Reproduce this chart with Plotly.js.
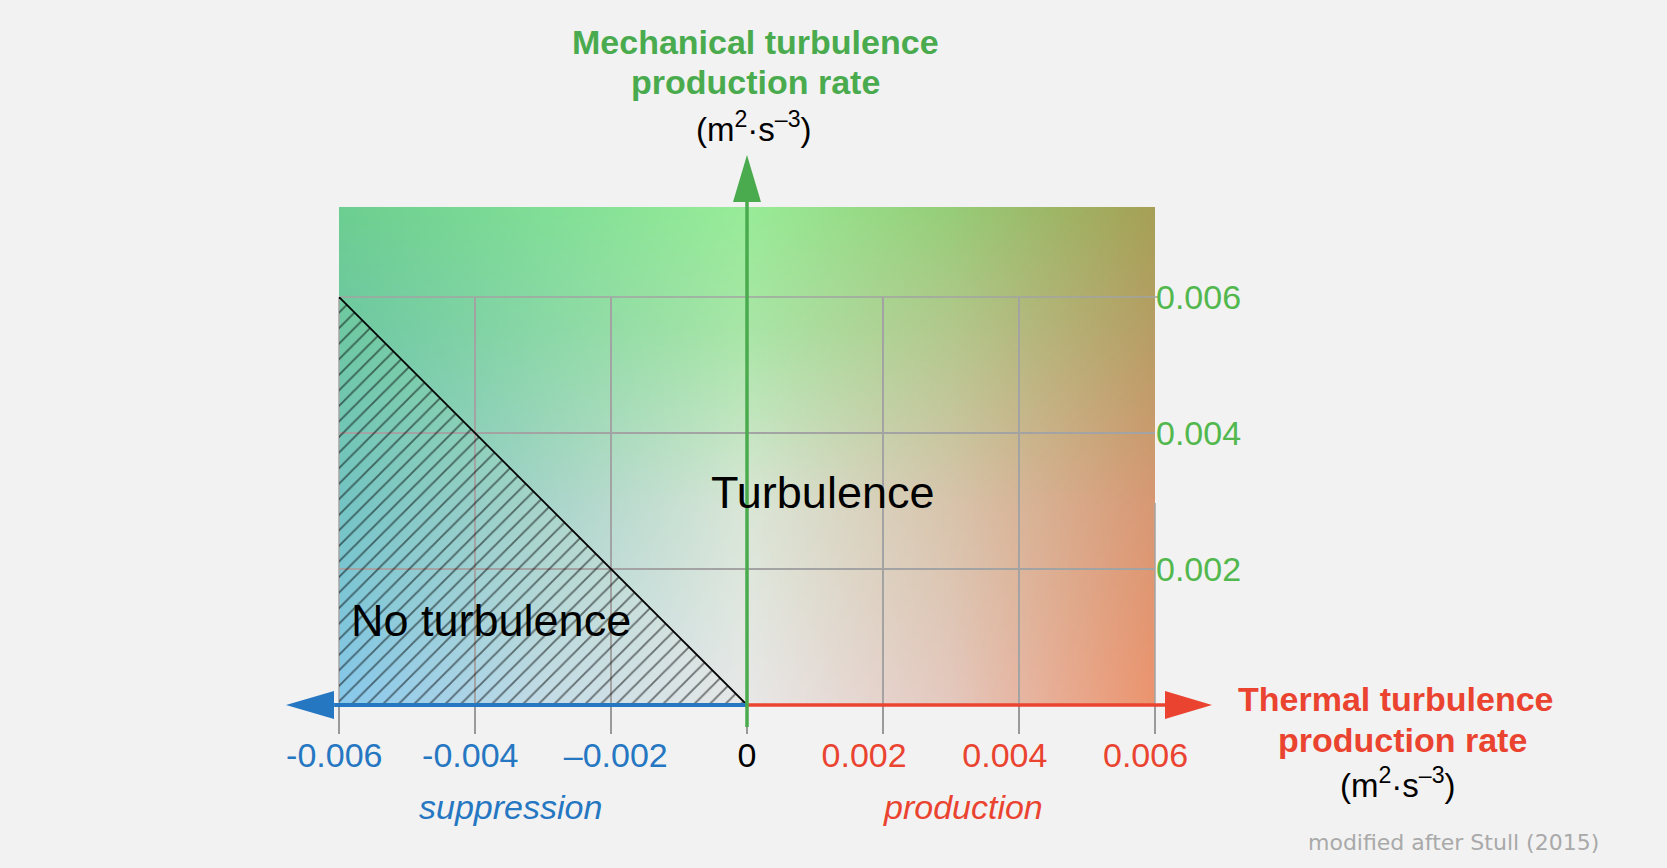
<!DOCTYPE html>
<html>
<head>
<meta charset="utf-8">
<script src="https://cdn.plot.ly/plotly-3.0.1.min.js"></script>
<style>
  html, body { margin: 0; padding: 0; background: #f2f2f2; }
  #chart { width: 1667px; height: 868px; }
</style>
</head>
<body>
<div id="chart"></div>
<script>
// ---------- data ----------
const xTickVals = [-0.006, -0.004, -0.002, 0, 0.002, 0.004, 0.006];
const xTickText = ['-0.006', '-0.004', '\u20130.002', '0', '0.002', '0.004', '0.006'];
const yTickVals = [0.002, 0.004, 0.006];
const yTickText = ['0.002', '0.004', '0.006'];
const xRange = [-0.006, 0.006];
const yRange = [0, 0.006];
// no-turbulence region (triangle) and its boundary
const noTurbX = [-0.006, -0.006, 0];
const noTurbY = [0.006, 0, 0];
const boundaryX = [-0.006, 0];
const boundaryY = [0.006, 0];

// ---------- style ----------
const BLUE = '#2677c2', RED = '#ea4430', GREEN = '#4aab4e', GREEN_T = '#52b84e';
const GRID = '#a3a3a3';
const FONT = 'Liberation Sans, Arial, Helvetica, sans-serif';
// label nudges as in the original artwork (non-breaking spaces: + = pad right, - = pad left)
const xTickPad = [1, 1, -1, 0, 4, 3, 2];
// background colour control grid (rows top -> bottom, cols left -> right)
const bgGrid = [
  [[108,206,144],[128,222,150],[152,236,152],[150,205,120],[166,160,86]],
  [[110,200,162],[138,216,166],[168,230,166],[178,200,140],[182,158,100]],
  [[116,196,196],[168,212,202],[218,230,215],[216,196,172],[216,152,116]],
  [[136,200,236],[196,220,230],[232,232,232],[228,200,190],[236,148,110]]
];
const bgRowPos = [0, 0.24, 0.6, 1];   // fraction from top
const bgColPos = [0, 0.25, 0.5, 0.75, 1];

function makeBg() {
  const W = 300, H = 180;
  const c = document.createElement('canvas');
  c.width = W; c.height = H;
  const ctx = c.getContext('2d');
  const img = ctx.createImageData(W, H);
  function seg(pos, t) {
    for (let i = 0; i < pos.length - 1; i++) {
      if (t <= pos[i + 1]) return [i, (t - pos[i]) / (pos[i + 1] - pos[i])];
    }
    return [pos.length - 2, 1];
  }
  for (let py = 0; py < H; py++) {
    const [ri, rt] = seg(bgRowPos, py / (H - 1));
    for (let px = 0; px < W; px++) {
      const [ci, ct] = seg(bgColPos, px / (W - 1));
      const k = (py * W + px) * 4;
      for (let ch = 0; ch < 3; ch++) {
        const a = bgGrid[ri][ci][ch], b = bgGrid[ri][ci + 1][ch];
        const cc = bgGrid[ri + 1][ci][ch], d = bgGrid[ri + 1][ci + 1][ch];
        const top = a + (b - a) * ct, bot = cc + (d - cc) * ct;
        img.data[k + ch] = Math.round(top + (bot - top) * rt);
      }
      img.data[k + 3] = 255;
    }
  }
  ctx.putImageData(img, 0, 0);
  return c.toDataURL('image/png');
}

const tickColor = v => (v < 0 ? BLUE : (v > 0 ? RED : '#000000'));
const NB = '\u00a0';
const xTickLabels = xTickVals.map((v, i) => {
  const p = xTickPad[i];
  const t = (p < 0 ? NB.repeat(-p) : '') + xTickText[i] + (p > 0 ? NB.repeat(p) : '');
  return '<span style="color:' + tickColor(v) + '">' + t + '</span>';
});

const traces = [
  {
    type: 'scatter', x: noTurbX, y: noTurbY, mode: 'none',
    fill: 'toself', fillcolor: 'rgba(0,0,0,0)',
    fillpattern: { shape: '/', size: 11, solidity: 0.17, fgcolor: '#000000',
                   bgcolor: 'rgba(0,0,0,0)', fillmode: 'overlay' },
    hoverinfo: 'skip', showlegend: false
  },
  {
    type: 'scatter', x: boundaryX, y: boundaryY, mode: 'lines',
    line: { color: '#000000', width: 1.8 }, hoverinfo: 'skip', showlegend: false
  }
];

const TOPFRAC = 1.2206; // top of coloured field in paper units

function ann(text, x, y, size, color, extra) {
  return Object.assign({
    text: text, xref: 'paper', yref: 'paper', x: x, y: y,
    xanchor: 'center', yanchor: 'middle', showarrow: false,
    font: { family: FONT, size: size, color: color }
  }, extra || {});
}

const layout = {
  width: 1667, height: 868,
  paper_bgcolor: '#f2f2f2', plot_bgcolor: 'rgba(0,0,0,0)',
  margin: { l: 339, r: 512, t: 297, b: 163 },
  showlegend: false, hovermode: false,
  font: { family: FONT, color: '#000' },
  xaxis: {
    range: xRange, tickmode: 'array', tickvals: xTickVals, ticktext: xTickLabels,
    ticks: 'outside', ticklen: 28, tickwidth: 1.5, tickcolor: '#9a9a9a',
    ticklabelstandoff: -8,
    showgrid: true, gridcolor: GRID, gridwidth: 1.5,
    zeroline: false, showline: false, fixedrange: true,
    tickfont: { family: FONT, size: 34 }
  },
  yaxis: {
    range: yRange, side: 'right', tickmode: 'array', tickvals: yTickVals, ticktext: yTickText,
    ticks: '', showgrid: true, gridcolor: GRID, gridwidth: 1.5,
    zeroline: false, showline: false, fixedrange: true,
    tickfont: { family: FONT, size: 34, color: GREEN_T }
  },
  images: [{
    source: makeBg(), xref: 'paper', yref: 'paper', x: 0, y: TOPFRAC,
    sizex: 1, sizey: TOPFRAC, xanchor: 'left', yanchor: 'top',
    sizing: 'stretch', layer: 'below'
  }],
  shapes: [
    // edge grid lines
    { type: 'line', xref: 'paper', yref: 'paper', x0: 0, x1: 1.006, y0: 1, y1: 1,
      line: { color: GRID, width: 1.5 }, layer: 'below' },
    { type: 'line', xref: 'paper', yref: 'paper', x0: 0, x1: 0, y0: 0, y1: 1,
      line: { color: GRID, width: 1.5 }, layer: 'below' },
    { type: 'line', xref: 'paper', yref: 'paper', x0: 1, x1: 1, y0: 0, y1: 0.495,
      line: { color: GRID, width: 1.5 }, layer: 'below' },
    // axes arrows
    { type: 'line', xref: 'paper', yref: 'paper', x0: -0.006, x1: 0.5, y0: 0, y1: 0,
      line: { color: BLUE, width: 4 }, layer: 'above' },
    { type: 'path', xref: 'paper', yref: 'paper', xsizemode: 'pixel', ysizemode: 'pixel',
      xanchor: 0, yanchor: 0, path: 'M-53,0 L-5,14 L-5,-14 Z',
      fillcolor: BLUE, line: { width: 0 }, layer: 'above' },
    { type: 'line', xref: 'paper', yref: 'paper', x0: 0.5, x1: 1.0123, y0: 0, y1: 0,
      line: { color: RED, width: 3.5 }, layer: 'above' },
    { type: 'path', xref: 'paper', yref: 'paper', xsizemode: 'pixel', ysizemode: 'pixel',
      xanchor: 1, yanchor: 0, path: 'M57,0 L10,14 L10,-14 Z',
      fillcolor: RED, line: { width: 0 }, layer: 'above' },
    { type: 'line', xref: 'paper', yref: 'paper', x0: 0.5, x1: 0.5, y0: -0.054, y1: 1.235,
      line: { color: GREEN, width: 3.5 }, layer: 'above' },
    { type: 'path', xref: 'paper', yref: 'paper', xsizemode: 'pixel', ysizemode: 'pixel',
      xanchor: 0.5, yanchor: 1, path: 'M0,142 L-14,95 L14,95 Z',
      fillcolor: GREEN, line: { width: 0 }, layer: 'above' }
  ],
  annotations: [
    ann('<b>Mechanical turbulence</b>', 0.51, 1.624, 34, GREEN),
    ann('<b>production rate</b>', 0.51, 1.527, 34, GREEN),
    ann('(m<sup>2</sup>\u00b7s<sup>\u20133</sup>)', 0.5086, 1.416, 33, '#000'),
    ann('<b>Thermal turbulence</b>', 1.2953, 0.014, 34, RED),
    ann('<b>production rate</b>', 1.3027, -0.087, 34, RED),
    ann('(m<sup>2</sup>\u00b7s<sup>\u20133</sup>)', 1.2978, -0.192, 33, '#000'),
    ann('<i>suppression</i>', 0.2096, -0.25, 34, BLUE),
    ann('<i>production</i>', 0.7647, -0.25, 34, RED),
    ann('Turbulence', 0.592, 0.52, 45, '#000'),
    ann('No turbulence', 0.0125, 0.206, 45, '#000', { xanchor: 'left' }),
    ann('modified after Stull (2015)', 1.366, -0.338, 22, '#a9a9a9',
        { font: { family: 'DejaVu Sans, sans-serif', size: 22, color: '#a9a9a9' } })
  ]
};

Plotly.newPlot('chart', traces, layout, { displayModeBar: false, staticPlot: true });
</script>
</body>
</html>
